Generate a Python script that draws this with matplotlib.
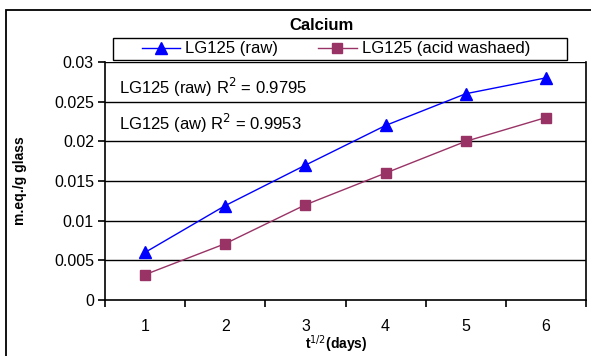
import matplotlib
matplotlib.use("Agg")
import matplotlib.pyplot as plt
from matplotlib.patches import Rectangle

plt.rcParams["font.family"] = ["Liberation Sans", "DejaVu Sans"]

days = [1, 2, 3, 4, 5, 6]
raw = [0.006, 0.0119, 0.017, 0.022, 0.026, 0.028]
acid_washed = [0.0032, 0.0071, 0.012, 0.016, 0.020, 0.023]
yticks = [0, 0.005, 0.01, 0.015, 0.02, 0.025, 0.03]
ytick_labels = ["0", "0.005", "0.01", "0.015", "0.02", "0.025", "0.03"]

W, H = 591, 356
fig = plt.figure(figsize=(W / 100, H / 100), dpi=100)
ax = fig.add_axes([105 / W, 1 - 300 / H, 481 / W, 238 / H])

# outer chart border (bottom runs off the image)
fig.patches.append(Rectangle((6 / W, -0.05), 600 / W, 1.05 - 10 / H,
                             transform=fig.transFigure, fill=False,
                             edgecolor="black", linewidth=1.3))

for y in yticks[1:]:
    ax.axhline(y, color="black", linewidth=1.0, zorder=1)

ax.plot(days, raw, color="#0000FF", marker="^", markersize=8, linewidth=1.0,
        label="LG125 (raw)", zorder=3)
ax.plot(days, acid_washed, color="#993366", marker="s", markersize=6.5, linewidth=1.0,
        label="LG125 (acid washaed)", zorder=3)

ax.set_xlim(0.5, 6.5)
ax.set_ylim(0, 0.03)
ax.set_xticks(days)
ax.set_xticklabels([str(d) for d in days], fontsize=11.5)
ax.set_xticks([0.5 + i for i in range(7)], minor=True)
ax.tick_params(axis="x", which="major", length=0, pad=14)
ax.tick_params(axis="x", which="minor", length=5, width=1.2, direction="out")
ax.set_yticks(yticks)
ax.set_yticklabels(ytick_labels, fontsize=11.5)
ax.tick_params(axis="y", length=5, width=1.2, direction="out", pad=3)

for side in ["left", "bottom", "right"]:
    ax.spines[side].set_linewidth(1.2)
ax.spines["top"].set_visible(False)

fig.text(336 / W, 1 - 344 / H, "t$^{1/2}$(days)", fontsize=10, fontweight="bold",
         ha="center", va="center")
fig.text(20 / W, 1 - 181 / H, "m.eq./g glass", fontsize=10, fontweight="bold",
         ha="center", va="center", rotation=90)

ax.text(0.675, 0.0268, "LG125 (raw) R$^2$ = 0.9795", fontsize=12, va="center")
ax.text(0.675, 0.0222, "LG125 (aw) R$^2$ = 0.9953", fontsize=12, va="center")

fig.text(322 / W, 1 - 26 / H, "Calcium", fontsize=12, fontweight="bold",
         ha="center", va="center")

# legend box
fig.patches.append(Rectangle((113 / W, 1 - 60 / H), 454 / W, 22 / H,
                             transform=fig.transFigure, fill=False,
                             edgecolor="black", linewidth=1.0))
fig.legend(loc="center", bbox_to_anchor=(336 / W, 1 - 49 / H), ncol=2,
           fontsize=12, frameon=False, handlelength=2.3, columnspacing=2.4,
           handletextpad=0.3, borderaxespad=0, borderpad=0)

fig.savefig("out.png", dpi=100)
